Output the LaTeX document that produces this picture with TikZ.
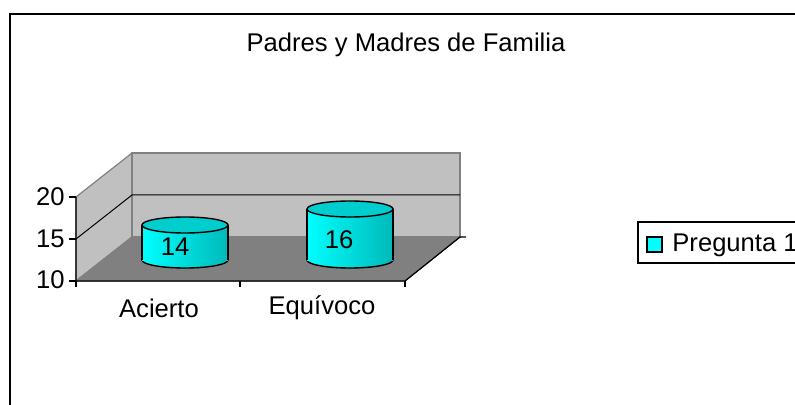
\documentclass[tikz,border=0pt]{standalone}
\usepackage{fontspec}
\setmainfont{Liberation Sans}
\usetikzlibrary{positioning}
\definecolor{wallgray}{RGB}{192,192,192}
\definecolor{floorgray}{RGB}{128,128,128}
\definecolor{barcyan}{RGB}{0,255,255}
\definecolor{bardark}{RGB}{0,185,185}
\definecolor{bartop}{RGB}{0,205,205}

\begin{document}
\begin{tikzpicture}[x=0.5pt, y=-0.5pt,
  lbl/.style={font=\fontsize{12.8}{15}\selectfont, inner sep=0pt},
  wall/.style={fill=wallgray, draw=floorgray, line width=0.6pt},
  grid line/.style={black, line width=0.5pt},
  axis line/.style={black, line width=0.6pt}]
\clip (0,0) rectangle (795,405);
\fill[white] (0,0) rectangle (795,405);

%outer frame
\draw[line width=0.8pt] (10,14) rectangle (820,430);

%title
\node[lbl] (title) at (406,45) {Padres y Madres de Familia};

%side wall and back wall
\draw[wall] (76,197) -- (132,153) -- (132,237) -- (76,281) -- cycle;
\draw[wall] (132,153) rectangle (460,237);

%floor
\draw[fill=floorgray, draw=floorgray, line width=0.6pt] (76,281) -- (132,237) -- (460,237) -- (405,281) -- cycle;

%grid lines
\draw[grid line] (76,239) -- (132,195) -- (460,195);

%axes
\draw[axis line] (76,197) -- (76,281) -- (405,281) -- (460,237) -- (466,237);
\foreach \y in {197,239,281} {
\draw[axis line] (69,\y) -- (76,\y);
}
\foreach \x in {76,240,405} {
\draw[axis line] (\x,281) -- (\x,287);
}

%value labels
\node[lbl, anchor=east] (v20) at (65,197) {20};
\node[lbl, anchor=east] (v15) at (65,239) {15};
\node[lbl, anchor=east] (v10) at (65,280) {10};

%category labels
\node[lbl] (acierto) at (159,308) {Acierto};
\node[lbl] (equivoco) at (322,308) {Equívoco};

%cylinders
\foreach \cx/\yt/\val/\lx/\ly in {185/225/14/175/247, 350/209/16/339/240} {
\shade[left color=barcyan, right color=bardark, draw=black, line width=0.7pt]
  (\cx,260) ellipse [x radius=43, y radius=8];
\shade[left color=barcyan, right color=bardark]
  (\cx-43,\yt) rectangle (\cx+43,260);
\draw[line width=0.7pt] (\cx-43,\yt) -- (\cx-43,260);
\draw[line width=0.7pt] (\cx+43,\yt) -- (\cx+43,260);
\draw[fill=bartop, line width=0.7pt] (\cx,\yt) ellipse [x radius=43, y radius=8];
\node[lbl] (bar\val) at (\lx,\ly) {\val};
}

%legend
\draw[line width=0.6pt] (638,222) rectangle (820,263);
\draw[fill=barcyan, line width=0.6pt] (647,237) rectangle (662,252);
\node[lbl, anchor=west] (legend) at (672,245) {Pregunta 1};
\end{tikzpicture}
\end{document}
